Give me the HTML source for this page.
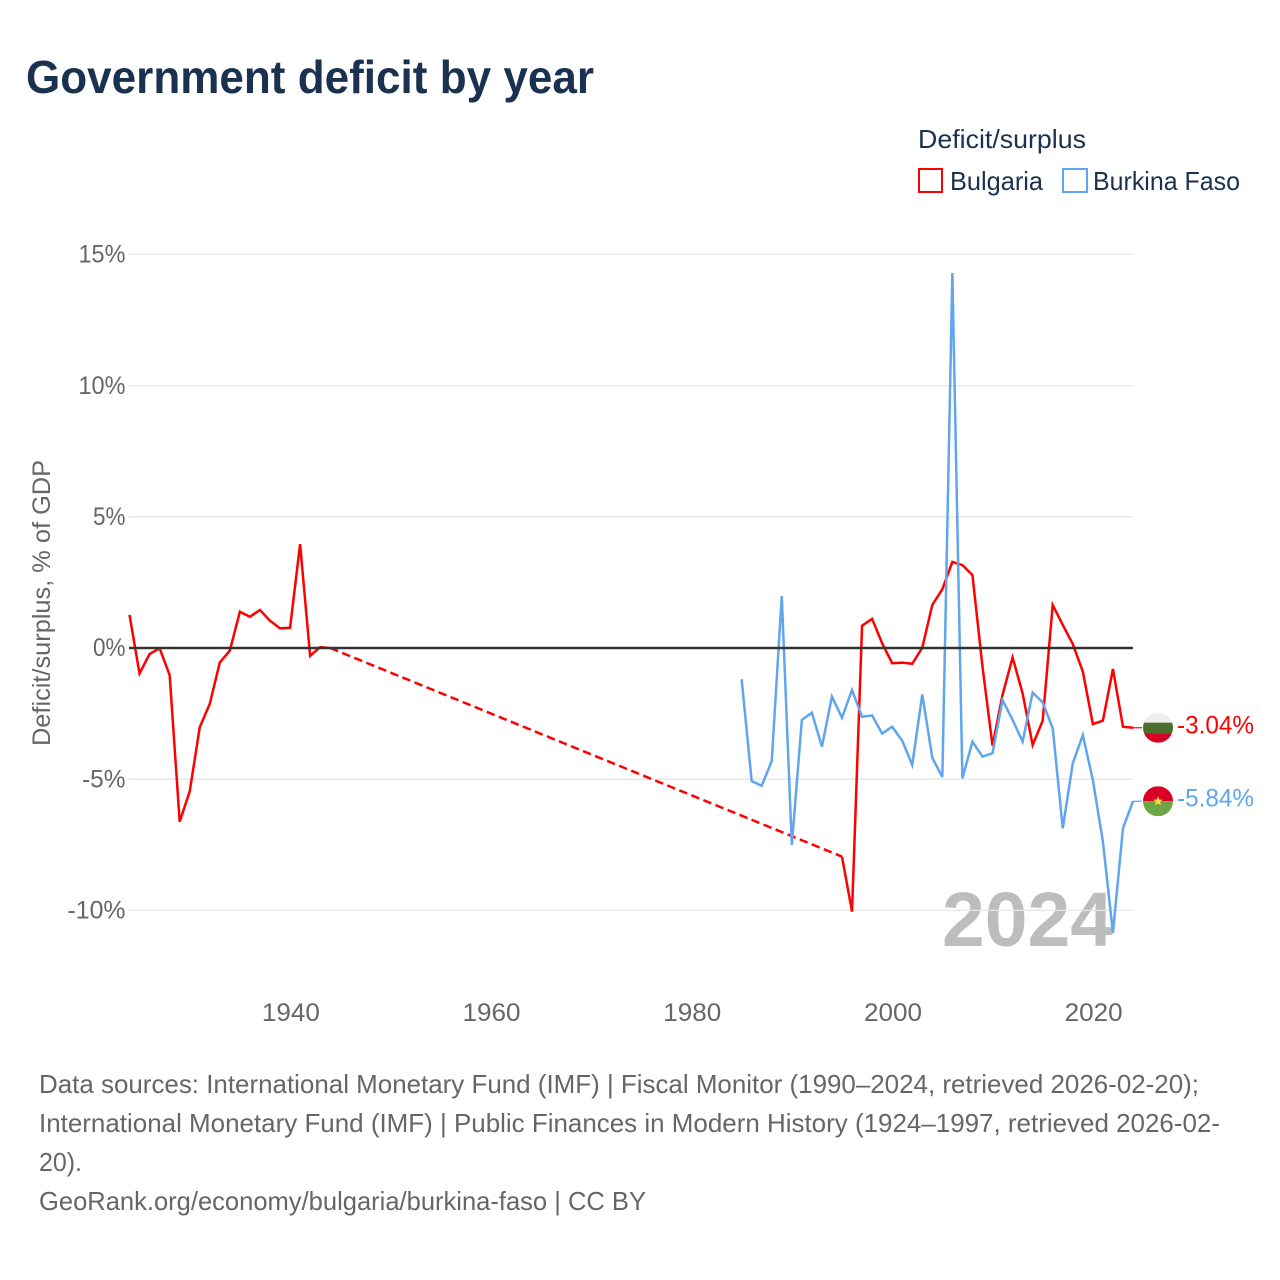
<!DOCTYPE html>
<html lang="en">
<head>
<meta charset="utf-8">
<title>Government deficit by year</title>
<style>
html,body{margin:0;padding:0;background:#fff;width:1280px;height:1280px;overflow:hidden}
svg{display:block}
text{font-family:"Liberation Sans",sans-serif}
</style>
</head>
<body>
<svg id="chart" width="1280" height="1280" viewBox="0 0 1280 1280" xmlns="http://www.w3.org/2000/svg">
  <rect x="0" y="0" width="1280" height="1280" fill="#fff"/>
  <text x="26" y="93" font-size="46" font-weight="700" fill="#1a3150" textLength="568" lengthAdjust="spacingAndGlyphs">Government deficit by year</text>

  <g>
    <text x="918" y="148" font-size="26" fill="#1a3150" textLength="168" lengthAdjust="spacingAndGlyphs">Deficit/surplus</text>
    <rect x="919" y="169" width="23" height="23" fill="#fff" stroke="#ff0000" stroke-width="2"/>
    <text x="950" y="190" font-size="26" fill="#1a3150" textLength="93" lengthAdjust="spacingAndGlyphs">Bulgaria</text>
    <rect x="1063" y="169" width="24" height="23" fill="#fff" stroke="#60a5ee" stroke-width="2"/>
    <text x="1093" y="190" font-size="26" fill="#1a3150" textLength="147" lengthAdjust="spacingAndGlyphs">Burkina Faso</text>
  </g>

  <text transform="translate(50,603) rotate(-90)" text-anchor="middle" font-size="25" fill="#666" textLength="286" lengthAdjust="spacingAndGlyphs">Deficit/surplus, % of GDP</text>

  <text id="year-label" x="942" y="946" font-size="77" font-weight="700" fill="#bdbdbd" textLength="171" lengthAdjust="spacingAndGlyphs"></text>

  <g id="grid"></g>
  <g id="y-axis"></g>
  <g id="x-axis"></g>
  <g id="series"></g>
  <g id="zero"></g>
  <g id="ends"></g>

  <g font-size="26" fill="#666">
    <text x="39" y="1093" textLength="1160" lengthAdjust="spacingAndGlyphs">Data sources: International Monetary Fund (IMF) | Fiscal Monitor (1990–2024, retrieved 2026-02-20);</text>
    <text x="39" y="1132" textLength="1181" lengthAdjust="spacingAndGlyphs">International Monetary Fund (IMF) | Public Finances in Modern History (1924–1997, retrieved 2026-02-</text>
    <text x="39" y="1171" textLength="43" lengthAdjust="spacingAndGlyphs">20).</text>
    <text x="39" y="1210" textLength="607" lengthAdjust="spacingAndGlyphs">GeoRank.org/economy/bulgaria/burkina-faso | CC BY</text>
  </g>
</svg>

<script>
var xTicks = [1940, 1960, 1980, 2000, 2020];
var yTicks = [15, 10, 5, 0, -5, -10];

var bulgariaYears = [1924,1925,1926,1927,1928,1929,1930,1931,1932,1933,1934,1935,1936,1937,1938,1939,1940,1941,1942,1943,1944,
  1995,1996,1997,1998,1999,2000,2001,2002,2003,2004,2005,2006,2007,2008,2009,2010,2011,2012,2013,2014,2015,2016,2017,2018,2019,2020,2021,2022,2023,2024];
var bulgariaValues = [1.26,-0.97,-0.23,-0.01,-1.03,-6.62,-5.47,-3.02,-2.13,-0.55,-0.10,1.38,1.19,1.45,1.04,0.75,0.77,3.96,-0.30,0.03,0.0,
  -7.95,-10.05,0.85,1.11,0.18,-0.58,-0.56,-0.60,0.01,1.64,2.24,3.28,3.16,2.78,-0.71,-3.72,-1.79,-0.36,-1.73,-3.70,-2.77,1.64,0.88,0.15,-0.90,-2.90,-2.77,-0.80,-3.00,-3.04];

var burkinaYears = [1985,1986,1987,1988,1989,1990,1991,1992,1993,1994,1995,1996,1997,1998,1999,2000,2001,2002,2003,2004,2005,2006,2007,2008,2009,2010,2011,2012,2013,2014,2015,2016,2017,2018,2019,2020,2021,2022,2023,2024];
var burkinaValues = [-1.19,-5.07,-5.25,-4.31,1.98,-7.51,-2.74,-2.47,-3.76,-1.85,-2.66,-1.60,-2.62,-2.57,-3.26,-3.00,-3.53,-4.46,-1.77,-4.18,-4.92,14.29,-4.97,-3.57,-4.14,-4.01,-1.98,-2.74,-3.57,-1.70,-2.07,-3.06,-6.87,-4.39,-3.32,-5.03,-7.38,-10.85,-6.87,-5.84];

var currentYear = 2024;

var NS = 'http://www.w3.org/2000/svg';
var RED = '#ff0000';
var BLUE = '#60a5ee';

function xScale(year) { return 129.5 + (year - 1924) * 10.035; }
function yScale(v) { return 648 - v * 26.24; }

function mk(tag, parentId, props) {
  var el = document.createElementNS(NS, tag);
  for (var k in props) { el.setAttribute(k, props[k]); }
  if (typeof parentId === 'string') { document.getElementById(parentId).appendChild(el); }
  else { parentId.appendChild(el); }
  return el;
}

function tickWidth(s) {
  var w = 0;
  for (var i = 0; i < s.length; i++) {
    var c = s.charAt(i);
    w += c === '%' ? 18 : (c === '-' ? 11 : 14.5);
  }
  return w;
}

document.getElementById('year-label').textContent = String(currentYear);

yTicks.forEach(function (t) {
  var y = yScale(t);
  if (t !== 0) {
    var line = mk('line', 'grid', { x1: 129, x2: 1133, y1: y, y2: y, stroke: '#e6e6e6', 'stroke-width': 1.3 });
    
    
  }
  var s = t + '%';
  var lab = mk('text', 'y-axis', { x: 125.5, y: y + 8.2, 'text-anchor': 'end', 'font-size': 25, fill: '#666', textLength: tickWidth(s), lengthAdjust: 'spacingAndGlyphs' });
  
  
  lab.textContent = s;
});

xTicks.forEach(function (t) {
  var s = String(t);
  var lab = mk('text', 'x-axis', { x: xScale(t) + 0.8, y: 1021, 'text-anchor': 'middle', 'font-size': 25, fill: '#666', textLength: tickWidth(s), lengthAdjust: 'spacingAndGlyphs' });
  
  
  lab.textContent = s;
});

function drawSeries(name, years, values, color) {
  var g = mk('g', 'series', {});
  
  
  var run = [];
  function flush() {
    if (run.length > 1) {
      var p = mk('polyline', g, { points: run.join(' '), fill: 'none', stroke: color, 'stroke-width': 2.5, 'stroke-linejoin': 'miter' });
      
      
    }
    run = [];
  }
  for (var i = 0; i < years.length; i++) {
    if (i > 0 && years[i] - years[i - 1] > 1) {
      flush();
      var d = mk('line', g, { x1: xScale(years[i - 1]), y1: yScale(values[i - 1]), x2: xScale(years[i]), y2: yScale(values[i]), stroke: color, 'stroke-width': 2.5, 'stroke-dasharray': '8.5 4.5' });
      
      
    }
    run.push(xScale(years[i]).toFixed(2) + ',' + yScale(values[i]).toFixed(2));
  }
  flush();
}

drawSeries('bulgaria', bulgariaYears, bulgariaValues, RED);
drawSeries('burkina-faso', burkinaYears, burkinaValues, BLUE);

var zeroLine = mk('line', 'zero', { x1: 129, x2: 1133, y1: yScale(0), y2: yScale(0), stroke: '#333', 'stroke-width': 2.4 });



function drawEnd(name, v, color, bands, star) {
  var y = yScale(v);
  var cx = 1158, r = 15;
  var conn = mk('line', 'ends', { x1: 1133, x2: 1142, y1: y, y2: y, stroke: color, 'stroke-width': 1.2 });
  
  

  var flag = mk('g', 'ends', {});
  
  
  var id = 'clip-' + name;
  var clip = mk('clipPath', flag, { id: id });
  mk('circle', clip, { cx: cx, cy: y, r: r });
  var inner = mk('g', flag, { 'clip-path': 'url(#' + id + ')' });
  bands.forEach(function (b) {
    mk('rect', inner, { x: cx - r, y: y - r + b.from * 2 * r, width: 2 * r, height: (b.to - b.from) * 2 * r, fill: b.fill });
  });
  if (star) {
    var pts = [];
    for (var i = 0; i < 10; i++) {
      var rad = i % 2 ? 2.2 : 5;
      var a = -Math.PI / 2 + i * Math.PI / 5;
      pts.push((cx + rad * Math.cos(a)).toFixed(2) + ',' + (y + rad * Math.sin(a)).toFixed(2));
    }
    mk('polygon', inner, { points: pts.join(' '), fill: '#ffda44' });
  }

  var lab = mk('text', 'ends', { x: 1177, y: y + 5.5, 'font-size': 25, fill: color, textLength: 77, lengthAdjust: 'spacingAndGlyphs' });
  
  
  lab.textContent = v.toFixed(2) + '%';
}

drawEnd('bulgaria', bulgariaValues[bulgariaValues.length - 1], RED, [
  { from: 0, to: 0.33, fill: '#eeeeee' },
  { from: 0.33, to: 0.69, fill: '#496e2d' },
  { from: 0.69, to: 1, fill: '#d80027' }
], false);
drawEnd('burkina-faso', burkinaValues[burkinaValues.length - 1], BLUE, [
  { from: 0, to: 0.5, fill: '#d80027' },
  { from: 0.5, to: 1, fill: '#6da544' }
], true);
</script>
</body>
</html>
